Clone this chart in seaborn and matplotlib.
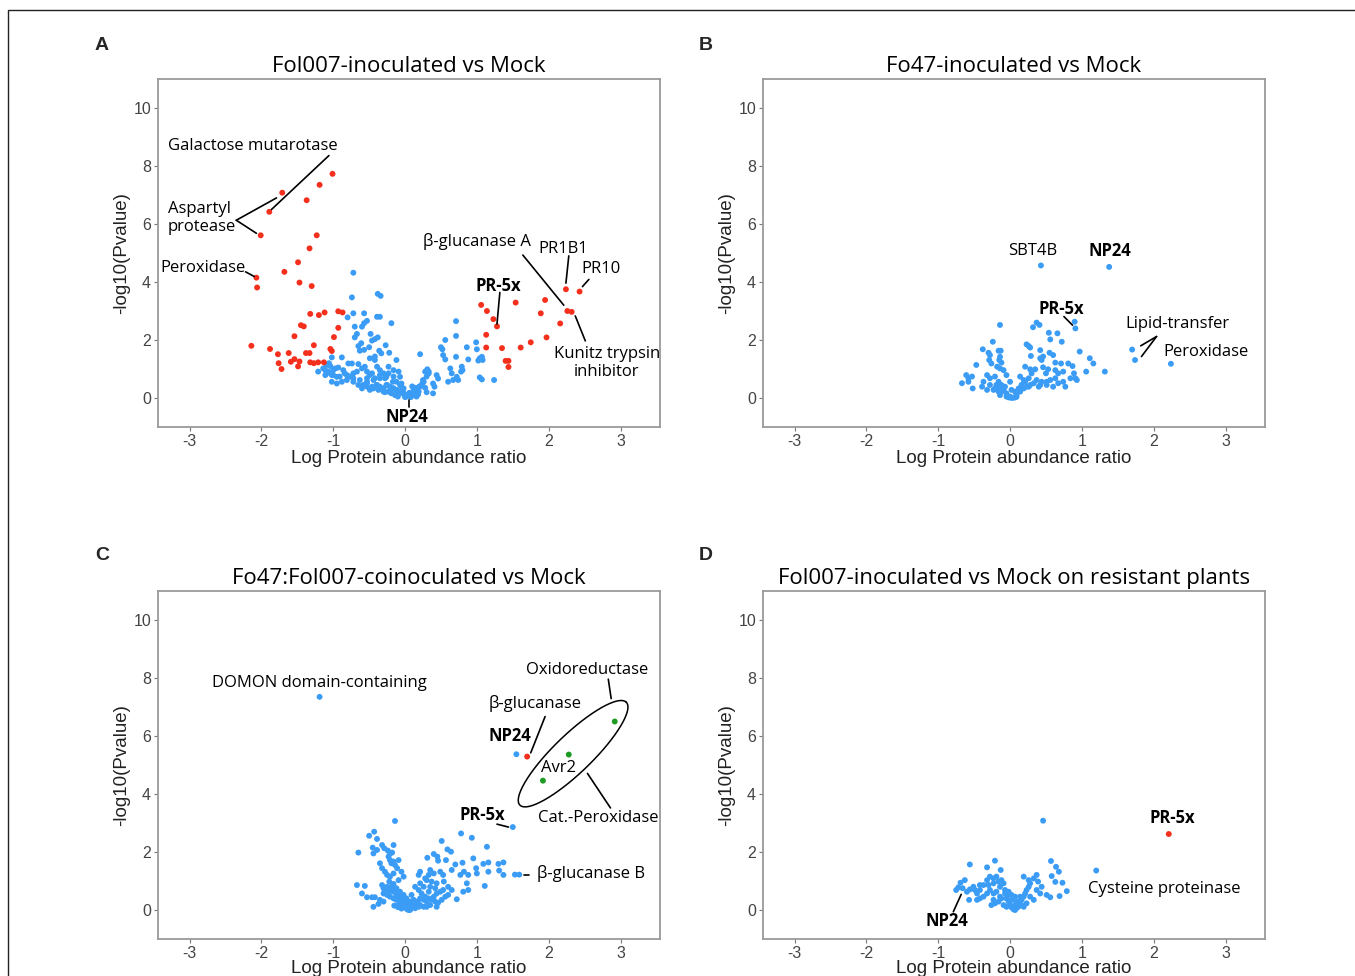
import numpy as np
import pandas as pd
import matplotlib
matplotlib.use("Agg")
import matplotlib.pyplot as plt
from matplotlib.patches import Rectangle
import seaborn as sns

# ---- values (x = log ratio, y = -log10 p) ----

# panel A: Fol007 vs Mock
a_blue_x = [-0.72, -0.74, -0.38, -0.34, -0.72, -0.57, -0.80, -0.39, -0.35, -0.53,
            -0.57, -0.19, -0.70, -0.60, -0.70, -0.67, -0.48, -0.38, -0.46, -0.42,
            -0.65, -0.61, -0.27, -0.50, -0.36, -0.33, -0.63, -0.57, -0.22, -0.12,
            -0.42, -0.88, -1.02, -0.49, -0.42, -0.79, -0.74, -0.65,
            -1.09, -1.04, -1.11, -1.07, -1.00, -0.97, -1.02, -1.11, -0.95, -1.21, -1.06, -0.93,
            -0.86, -0.81, -0.72, -0.67, -0.60, -0.56, -0.53, -0.46, -0.39, -0.35,
            -0.30, -0.23, -0.16, -0.09, -0.07, -0.26, -0.35, -0.44, -0.53, -0.63,
            -0.72, -0.81, -0.88, -0.95,
            -0.05, -0.03, -0.01, 0.00, 0.02, 0.04, 0.06, -0.08, -0.12, -0.16,
            -0.21, -0.26, -0.30, -0.35, -0.40, -0.44, -0.49, -0.53, -0.58, -0.14,
            -0.19, -0.23, -0.10, 0.08, 0.10, 0.14, -0.05, -0.17, -0.28, 0.12, 0.16,
            0.21, 0.20, 0.19, 0.25, 0.28, 0.31, 0.33, 0.24, 0.28, 0.30,
            0.39, 0.39, 0.41, 0.44, 0.46, 0.50, 0.52, 0.56, 0.53, 0.56,
            0.60, 0.63, 0.65, 0.67, 0.71, 0.71, 0.71, 0.72, 0.74, 0.78,
            0.79, 0.80, 0.86, 0.88, 0.99, 1.00, 1.02, 1.04, 1.07, 1.08,
            1.04, 1.07, 1.24, 0.15, 0.18, 0.10,
            -0.53, -0.46, -0.39, -0.32, -0.25, -0.21, -0.16, -0.12, -0.07, -0.02,
            0.02, 0.07, 0.12, 0.16, 0.21, 0.26, 0.30, 0.33, -0.53, -0.49,
            -0.42, -0.35, -0.28, -0.23, -0.16, -0.12, -0.07, -0.02, -0.72, -0.65,
            -0.60, -0.77, -0.84, -0.91, -1.00, -1.02, -1.09, -1.14, -0.21, -0.30, -0.37]
a_blue_y = [4.32, 3.47, 3.59, 3.52, 2.92, 2.92, 2.78, 2.80, 2.80, 2.66,
            2.58, 2.58, 2.46, 2.46, 2.09, 2.21, 2.21, 2.09, 1.98, 2.03,
            1.79, 1.89, 1.82, 1.75, 1.63, 1.54, 1.63, 1.66, 1.56, 1.31,
            1.43, 1.40, 1.40, 1.37, 1.31, 1.19, 1.19, 1.17,
            1.14, 1.10, 0.96, 0.91, 0.96, 1.02, 0.79, 0.79, 0.73, 0.91, 1.20, 1.05,
            0.96, 0.79, 0.85, 0.91, 1.02, 1.08, 0.91, 0.85, 1.08, 0.96,
            0.85, 1.08, 0.96, 0.91, 0.73, 0.73, 0.68, 0.62, 0.56, 0.62,
            0.68, 0.62, 0.56, 0.50,
            0.39, 0.22, 0.10, 0.03, 0.05, 0.12, 0.18, 0.16, 0.27, 0.33,
            0.39, 0.45, 0.33, 0.39, 0.45, 0.33, 0.28, 0.39, 0.45, 0.10,
            0.16, 0.22, 0.05, 0.03, 0.10, 0.16, 0.50, 0.56, 0.20, 0.28, 0.05,
            1.51, 0.40, 0.22, 0.62, 0.91, 0.99, 0.85, 0.50, 0.35, 0.20,
            0.16, 0.50, 0.39, 0.79, 0.67, 1.75, 1.68, 2.00, 1.48, 1.33,
            0.56, 1.02, 0.85, 0.62, 2.65, 2.14, 1.42, 0.73, 0.62, 0.91,
            1.08, 0.96, 1.75, 1.33, 1.92, 1.68, 1.29, 1.37, 1.42, 1.31,
            0.71, 0.64, 0.62, 0.35, 0.12, 0.40,
            0.51, 0.39, 0.45, 0.33, 0.45, 0.39, 0.33, 0.28, 0.22, 0.16,
            0.10, 0.10, 0.16, 0.28, 0.39, 0.56, 0.74, 0.91, 0.68, 0.79,
            0.68, 0.79, 0.68, 0.85, 0.74, 0.56, 0.45, 0.33, 0.56, 0.45,
            0.33, 0.74, 0.85, 0.74, 0.79, 0.56, 0.85, 1.02, 0.22, 0.22, 0.28]
a_red_x = [-1.01, -1.19, -1.71, -1.37, -1.89, -2.01, -1.23, -1.33, -1.49, -1.68,
           -2.07, -2.06, -1.47, -1.30, -1.32, -1.20, -1.12, -0.93, -0.87, -1.45,
           -1.41, -0.93, -1.54, -0.99, -2.14, -1.27, -1.88, -1.04, -1.02, -1.77,
           -1.62, -1.38, -1.33, -1.54, -1.76, -1.59, -1.47, -1.32, -1.27, -1.21,
           -1.49, -1.72, -1.13,
           1.06, 1.14, 1.23, 1.28, 1.13, 1.13, 1.35, 1.54, 1.40, 1.44,
           1.44, 1.61, 1.75, 1.89, 1.95, 1.97, 2.16, 2.24, 2.26, 2.32, 2.43]
a_red_y = [7.73, 7.35, 7.08, 6.82, 6.42, 5.61, 5.61, 5.16, 4.68, 4.35,
           4.15, 3.81, 3.98, 3.86, 2.90, 2.86, 2.95, 2.99, 2.95, 2.51,
           2.47, 2.42, 2.13, 2.10, 1.80, 1.82, 1.69, 1.69, 1.62, 1.51,
           1.55, 1.55, 1.55, 1.34, 1.20, 1.25, 1.26, 1.23, 1.20, 1.23,
           1.09, 1.00, 1.23,
           3.21, 3.00, 2.72, 2.47, 2.18, 1.74, 1.72, 3.29, 1.28, 1.28,
           1.07, 1.74, 1.92, 2.92, 3.38, 2.09, 2.57, 3.75, 3.00, 2.97, 3.67]

# panel B: Fo47 vs Mock
b_blue_x = [-0.14, 0.32, 0.37, 0.41, 0.90, 0.91, 0.54, 0.66, 0.56, 0.72,
            -0.24, 0.23, 0.26, 0.28, -0.38, -0.30, -0.28, -0.16, -0.13, 0.42,
            0.55, 0.97, 0.29, 0.42, 0.44, 0.46, -0.14, -0.15, -0.12, -0.29,
            -0.26, 0.60, 0.63, 0.71, 0.81, 0.87, 1.11, 1.16, -0.47, -0.18,
            -0.14, -0.09, 0.21, 0.28, 0.35, 0.30, 0.46, 0.53, 0.50, 0.63,
            0.67, 0.74, 1.06, 1.32, 0.89, 0.84, -0.61, -0.58, -0.53, -0.32,
            -0.28, -0.21, -0.05, 0.00, -0.67, -0.58, -0.52, -0.37, 0.14, 0.19,
            0.26, 0.37, 0.44, 0.56, 0.63, 0.67, 0.74, 0.77, 0.91, 0.93,
            -0.16, -0.12, -0.15, -0.09, -0.05, 0.00, 0.05, 0.09, 0.14, 0.19,
            0.23, 0.28, 0.33, -0.16, -0.14, -0.21, -0.28, -0.32, -0.39, 0.02,
            -0.02, 0.07, 0.26, 0.42, 0.51,
            0.02, 0.07, 0.12, 0.16, 0.21, -0.07, -0.12, -0.19, -0.23, 0.40,
            0.51, 0.60, -0.05, 0.09,
            0.43, 1.38, 1.70, 1.74, 2.24]
b_blue_y = [2.52, 2.44, 2.60, 2.52, 2.63, 2.40, 2.25, 2.23, 2.02, 1.94,
            1.94, 1.85, 1.79, 1.74, 1.68, 1.56, 1.48, 1.63, 1.63, 1.65,
            1.56, 1.60, 1.45, 1.37, 1.31, 1.43, 1.42, 1.31, 1.22, 1.31,
            1.19, 1.48, 1.22, 1.19, 1.19, 1.10, 1.37, 1.19, 1.14, 1.08,
            1.02, 0.96, 1.08, 0.99, 0.99, 0.85, 1.06, 0.99, 0.85, 0.96,
            0.85, 0.91, 0.91, 0.91, 0.85, 0.68, 0.79, 0.68, 0.74, 0.79,
            0.68, 0.74, 0.79, 0.56, 0.51, 0.56, 0.33, 0.56, 0.74, 0.62,
            0.68, 0.62, 0.56, 0.62, 0.68, 0.51, 0.56, 0.39, 0.68, 0.62,
            0.56, 0.45, 0.33, 0.28, 0.16, 0.05, 0.01, 0.10, 0.22, 0.33,
            0.39, 0.45, 0.51, 0.22, 0.10, 0.33, 0.45, 0.28, 0.39, 0.00,
            0.02, 0.02, 0.39, 0.45, 0.56,
            0.28, 0.22, 0.33, 0.45, 0.56, 0.39, 0.22, 0.45, 0.28, 0.39,
            0.45, 0.39, 0.05, 0.04,
            4.57, 4.52, 1.67, 1.31, 1.18]

# panel C: Fo47:Fol007 vs Mock
c_blue_x = [-0.14, -0.50, -0.43, -0.39, -0.65, -0.45, -0.44, -0.39, -0.32, -0.29,
            -0.24, -0.21, -0.18, -0.16, -0.23, -0.21, -0.19, -0.16, -0.14, -0.11,
            -0.09, -0.35, -0.32, -0.28, -0.25, -0.21, -0.16, -0.05, -0.02, -0.09,
            -0.22, -0.16, -0.25, -0.30, -0.21, -0.14, -0.09, -0.05, 0.00, 0.05,
            0.02, 0.07, -0.02, -0.07, -0.12, -0.16, -0.21, -0.25, -0.30, -0.67,
            -0.56, -0.60, -0.53, -0.46, -0.42, -0.35, -0.30, -0.37, -0.44,
            0.78, 0.93, 1.14, 0.51, 0.59, 0.64, 0.31, 0.40, 0.45, 0.46,
            0.57, 0.70, 0.80, 0.95, 1.09, 1.16, 1.30, 1.37, 1.31, 1.37,
            0.35, 0.40, 0.33, 0.49, 0.53, 0.65, 0.77, 0.82, 0.88, 0.99,
            1.00, 1.16, 0.21, 0.19, 0.28, 0.30, 0.37, 0.44, 0.54, 0.60,
            0.65, 0.72, 0.86, 0.88, 0.81, 1.11, 0.14, 0.19, 0.23, 0.28,
            0.33, 0.37, 0.42, 0.46, 0.51, 0.56, 0.60, 0.09, 0.12, 0.16,
            0.21, 0.26, 0.09, 0.14, -0.05, 0.03, 0.10, -0.10, 0.18, -0.15,
            -0.07, -0.02, 0.02, 0.07, 0.12, 0.02, -0.02, -0.07, -0.12, -0.16,
            0.21, 0.26, 0.30, 0.35, 0.40, 0.44, 0.49, 0.53, 0.33, 0.26,
            0.35, 0.42, 0.21, -0.23, -0.28, -0.32, -0.19, -0.12, -0.09, -0.05,
            0.05, 0.19, 0.30, 0.44,
            1.50, 1.53, 1.59, -1.19, 1.55]
c_blue_y = [3.07, 2.56, 2.70, 2.45, 1.98, 2.15, 1.95, 2.07, 2.24, 2.13,
            2.05, 1.95, 1.98, 2.24, 1.84, 1.72, 1.61, 1.67, 1.55, 1.44,
            1.72, 1.61, 1.44, 1.32, 1.21, 1.15, 1.26, 1.32, 1.15, 1.03,
            0.98, 0.90, 0.80, 0.75, 0.69, 0.69, 0.57, 0.46, 0.35, 0.23,
            0.06, 0.00, 0.11, 0.23, 0.35, 0.40, 0.46, 0.52, 0.57, 0.86,
            0.83, 0.57, 0.44, 0.44, 0.44, 0.35, 0.29, 0.21, 0.11,
            2.64, 2.49, 2.18, 2.38, 2.09, 2.01, 1.80, 1.93, 1.84, 1.70,
            1.72, 1.57, 1.63, 1.78, 1.59, 1.64, 1.59, 1.64, 1.36, 1.21,
            1.38, 1.26, 1.21, 1.32, 1.21, 1.38, 1.21, 1.32, 1.21, 1.44,
            1.26, 1.32, 1.32, 1.21, 1.09, 1.03, 0.98, 0.92, 0.98, 0.80,
            0.69, 0.37, 0.92, 0.69, 0.63, 0.83, 0.80, 0.69, 0.57, 0.46,
            0.40, 0.35, 0.29, 0.25, 0.35, 0.46, 0.52, 0.52, 0.35, 0.23,
            0.17, 0.11, 0.11, 0.06, 0.05, 0.02, 0.15, 0.10, 0.30, 0.15,
            0.63, 0.52, 0.40, 0.29, 0.17, 0.23, 0.29, 0.40, 0.52, 0.63,
            0.40, 0.35, 0.29, 0.17, 0.46, 0.57, 0.63, 0.69, 0.63, 0.80,
            0.80, 0.75, 0.92, 0.57, 0.69, 0.86, 0.80, 0.75, 0.17, 0.06,
            0.00, 0.11, 0.11, 0.11,
            2.86, 1.22, 1.22, 7.35, 5.37]
c_red_x = [1.70]
c_red_y = [5.29]
c_green_x = [1.92, 2.28, 2.92]
c_green_y = [4.46, 5.36, 6.50]

# panel D: Fol007 vs Mock, resistant plants
d_blue_x = [-0.75, -0.72, -0.69, -0.63, -0.66, -0.60, -0.56, -0.51, -0.57, -0.46,
            -0.42, -0.37, -0.32, -0.28, -0.23, -0.19, -0.12, -0.09, -0.14, -0.19,
            -0.23, -0.28, -0.32, -0.37, -0.42, -0.46, -0.07, -0.05, -0.02, 0.00,
            0.02, 0.05, 0.07, 0.09, 0.12, 0.14, 0.16, 0.19, 0.21, 0.23,
            0.28, 0.33, -0.12, -0.16, -0.21, -0.26, -0.23, 0.37, 0.33, 0.39,
            0.28, 0.19, 0.26, 0.37, 0.42, 0.44, 0.51, 0.56, -0.02, 0.02,
            0.07, 0.12, 0.16, -0.05, -0.09, -0.14, 0.19, 0.23,
            -0.07, -0.02, 0.07, 0.14, 0.02, 0.09, -0.42, -0.49, -0.30, -0.23,
            -0.16, 0.26,
            -0.56, -0.21, -0.32, -0.13, 0.57, 0.64, 0.68, 0.58, 0.63, 0.73,
            0.79, 0.69, 0.46, 1.20]
d_blue_y = [0.69, 0.78, 0.94, 1.03, 0.75, 0.63, 0.71, 0.80, 0.35, 0.57,
            0.69, 0.86, 1.03, 1.15, 1.09, 1.15, 1.03, 0.92, 0.80, 0.63,
            0.57, 0.69, 0.57, 0.46, 0.40, 0.35, 0.57, 0.40, 0.29, 0.17,
            0.09, 0.02, 0.00, 0.06, 0.12, 0.23, 0.35, 0.46, 0.57, 0.69,
            0.46, 0.35, 0.40, 0.29, 0.23, 0.17, 0.35, 1.21, 1.09, 0.98,
            0.92, 1.15, 1.03, 0.69, 0.57, 0.80, 0.52, 0.44, 0.52, 0.34,
            0.17, 0.29, 0.17, 0.11, 0.17, 0.46, 0.11, 0.23,
            0.69, 0.63, 0.46, 0.46, 0.52, 0.29, 0.86, 0.69, 0.86, 0.92,
            0.98, 0.80,
            1.57, 1.70, 1.47, 1.38, 1.69, 1.49, 1.32, 1.17, 0.97, 0.94,
            0.65, 0.48, 3.08, 1.36]
d_red_x = [2.21]
d_red_y = [2.62]

titles = ["Fol007-inoculated vs Mock", "Fo47-inoculated vs Mock",
          "Fo47:Fol007-coinoculated vs Mock", "Fol007-inoculated vs Mock on resistant plants"]
panel_letters = ["A", "B", "C", "D"]
x_ticks = [-3, -2, -1, 0, 1, 2, 3]
y_ticks = [0, 2, 4, 6, 8, 10]

# ---- style ----
sns.set_style("white")
plt.rcParams['font.family'] = ['Open Sans', 'DejaVu Sans']
NARROW = ['Liberation Sans Narrow', 'Liberation Sans', 'DejaVu Sans']
colors = {'blue': '#3b9cf5', 'red': '#f4301d', 'green': '#1e9b22'}

FW, FH = 1355, 976
fig = plt.figure(figsize=(FW / 100, FH / 100), dpi=100)

# thin frame around the whole figure
fig.patches.append(Rectangle((8 / FW, -0.05), 1.2, 1 - 10 / FH + 0.05, fill=False,
                             edgecolor='#222222', lw=1.0, transform=fig.transFigure))

box_w, box_h = 502, 348
origins = [(158, 79), (763, 79), (158, 591), (763, 591)]
letter_pos = [(102, 46), (706, 46), (102, 556), (706, 556)]


def volcano(ax, groups, title, xpad=1):
    parts = [pd.DataFrame({'ratio': xs, 'logp': ys, 'grp': g}) for g, xs, ys in groups]
    df = pd.concat(parts, ignore_index=True)
    sns.scatterplot(data=df, x='ratio', y='logp', hue='grp', palette=colors,
                    s=18, linewidth=0, legend=False, ax=ax, zorder=3)
    ax.set_xlim(-3.44, 3.55)
    ax.set_ylim(-1, 11)
    ax.set_xticks(x_ticks)
    ax.set_yticks(y_ticks)
    ax.set_xticklabels([str(t) for t in x_ticks], family=NARROW, fontsize=11.5, color='#444444')
    ax.set_yticklabels([str(t) for t in y_ticks], family=NARROW, fontsize=11.5, color='#444444')
    ax.tick_params(axis='both', length=3, width=0.8, color='#777777', pad=2,
                   bottom=True, left=True)
    for sp in ax.spines.values():
        sp.set_color('#9a9a9a')
        sp.set_linewidth(1.3)
    ax.set_xlabel("Log Protein abundance ratio", family=NARROW, fontsize=13.5,
                  labelpad=xpad, color='#222222')
    ax.set_ylabel("-log10(Pvalue)", family=NARROW, fontsize=13.5, labelpad=2, color='#222222')
    ax.set_title(title, fontsize=16, pad=5, color='black')


def note(ax, x, y, s, bold=False, ha='center', size=12):
    ax.text(x, y, s, ha=ha, va='center', fontsize=size,
            fontweight='bold' if bold else 'normal', color='black', linespacing=1.15, zorder=5)


def leader(ax, x0, y0, x1, y1):
    ax.plot([x0, x1], [y0, y1], color='black', lw=1.2, zorder=4)


axes = []
for (l, t) in origins:
    axes.append(fig.add_axes([l / FW, 1 - (t + box_h) / FH, box_w / FW, box_h / FH]))

volcano(axes[0], [('blue', a_blue_x, a_blue_y), ('red', a_red_x, a_red_y)], titles[0])
volcano(axes[1], [('blue', b_blue_x, b_blue_y)], titles[1])
volcano(axes[2], [('blue', c_blue_x, c_blue_y), ('red', c_red_x, c_red_y),
                  ('green', c_green_x, c_green_y)], titles[2], xpad=-1)
volcano(axes[3], [('blue', d_blue_x, d_blue_y), ('red', d_red_x, d_red_y)], titles[3], xpad=-1)

# panel A annotations
ax = axes[0]
note(ax, -3.30, 8.69, "Galactose mutarotase", ha='left')
leader(ax, -1.06, 8.36, -1.86, 6.50)
note(ax, -3.30, 6.20, "Aspartyl\nprotease", ha='left')
leader(ax, -2.35, 6.13, -1.79, 6.90)
leader(ax, -2.35, 6.13, -2.07, 5.68)
note(ax, -3.40, 4.48, "Peroxidase", ha='left')
leader(ax, -2.22, 4.35, -2.10, 4.19)
note(ax, 1.30, 3.86, "PR-5x", bold=True)
leader(ax, 1.32, 3.64, 1.28, 2.55)
note(ax, 0.25, 5.38, "β-glucanase A", ha='left')
leader(ax, 1.64, 4.93, 2.21, 3.20)
note(ax, 2.20, 5.14, "PR1B1")
leader(ax, 2.28, 4.90, 2.24, 3.96)
note(ax, 2.73, 4.45, "PR10")
leader(ax, 2.56, 4.09, 2.47, 3.84)
note(ax, 2.81, 1.20, "Kunitz trypsin\ninhibitor")
leader(ax, 2.37, 2.83, 2.51, 1.97)
note(ax, 0.03, -0.65, "NP24", bold=True)
leader(ax, 0.05, -0.06, 0.05, -0.32)

# panel B annotations
ax = axes[1]
note(ax, 0.32, 5.07, "SBT4B")
note(ax, 1.39, 5.07, "NP24", bold=True)
note(ax, 0.72, 3.07, "PR-5x", bold=True)
leader(ax, 0.75, 2.81, 0.87, 2.51)
note(ax, 1.60, 2.55, "Lipid-transfer", ha='left')
note(ax, 2.14, 1.59, "Peroxidase", ha='left')
leader(ax, 2.04, 2.12, 1.82, 1.80)
leader(ax, 2.04, 2.12, 1.83, 1.43)

# panel C annotations
ax = axes[2]
note(ax, -2.69, 7.82, "DOMON domain-containing", ha='left')
note(ax, 2.53, 8.27, "Oxidoreductase")
leader(ax, 2.83, 7.96, 2.87, 7.29)
note(ax, 1.81, 7.13, "β-glucanase")
leader(ax, 1.95, 6.67, 1.75, 5.42)
note(ax, 1.46, 5.99, "NP24", bold=True)
note(ax, 2.13, 4.88, "Avr2")
note(ax, 2.69, 3.18, "Cat.-Peroxidase")
leader(ax, 2.54, 4.71, 2.86, 3.52)
note(ax, 1.07, 3.29, "PR-5x", bold=True)
leader(ax, 1.28, 2.96, 1.44, 2.86)
note(ax, 1.84, 1.25, "β-glucanase B", ha='left')
leader(ax, 1.65, 1.22, 1.72, 1.22)
# ellipse around the Fo47 proteins (drawn in pixel space, mapped to data)
sx = box_w / 6.99
sy = box_h / 12.0
t = np.linspace(0, 2 * np.pi, 200)
ang = np.deg2rad(44)
px = 74 * np.cos(t) * np.cos(ang) - 19 * np.sin(t) * np.sin(ang)
py = 74 * np.cos(t) * np.sin(ang) + 19 * np.sin(t) * np.cos(ang)
ax.plot(2.34 + px / sx, 5.39 + py / sy, color='black', lw=1.1, zorder=4)

# panel D annotations
ax = axes[3]
note(ax, 2.26, 3.18, "PR-5x", bold=True)
note(ax, 1.09, 0.73, "Cysteine proteinase", ha='left')
note(ax, -0.88, -0.38, "NP24", bold=True)
leader(ax, -0.68, 0.54, -0.79, -0.06)

for lab, (lx, ly) in zip(panel_letters, letter_pos):
    fig.text(lx / FW, 1 - ly / FH, lab, ha='center', va='center', fontsize=14,
             fontweight='bold', family=['Liberation Sans', 'DejaVu Sans'])

fig.savefig("out.png", dpi=100)
